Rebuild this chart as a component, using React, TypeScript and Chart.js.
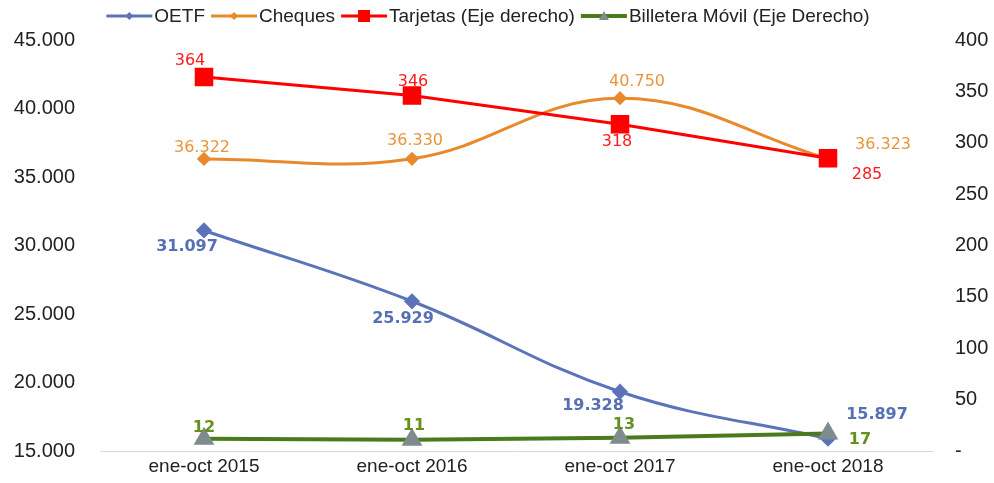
import React, { useEffect, useRef } from "react";
import { Chart, registerables } from "chart.js";

Chart.register(...registerables);

const categories = ["ene-oct 2015", "ene-oct 2016", "ene-oct 2017", "ene-oct 2018"];
const oetf = [31097, 25929, 19328, 15897];
const cheques = [36322, 36330, 40750, 36323];
const tarjetas = [364, 346, 318, 285];
const billetera = [12, 11, 13, 17];
const leftTicks = [15000, 20000, 25000, 30000, 35000, 40000, 45000];
const rightTicks = [0, 50, 100, 150, 200, 250, 300, 350, 400];

// label offsets (style, not data)
const labelOffsets: Record<string, [number, number][]> = {
  OETF: [[-17, 16], [-9, 18], [-27, 14], [49, -24]],
  Cheques: [[-2, -11], [3, -18], [17, -16], [55, -14]],
  "Tarjetas (Eje derecho)": [[-14, -16], [1, -14], [-3, 18], [39, 17]],
  "Billetera Móvil (Eje Derecho)": [[0, -11], [2, -14], [4, -13], [32, 6]],
};

const W = 994;
const H = 483;

const fmt = (v: number) => {
  const s = Math.round(v).toString();
  return s.replace(/\B(?=(\d{3})+(?!\d))/g, ".");
};

const labelPlugin = {
  id: "dataLabels",
  afterDatasetsDraw(chart: any) {
    const ctx = chart.ctx;
    chart.data.datasets.forEach((ds: any, i: number) => {
      const meta = chart.getDatasetMeta(i);
      const offs = labelOffsets[ds.label];
      ctx.save();
      ctx.font = `${ds._bold ? "bold " : ""}16px "DejaVu Sans", Verdana, sans-serif`;
      ctx.fillStyle = ds._labelColor;
      ctx.textAlign = "center";
      ctx.textBaseline = "middle";
      meta.data.forEach((pt: any, j: number) => {
        const [dx, dy] = offs[j];
        ctx.fillText(fmt(ds.data[j]), pt.x + dx, pt.y + dy);
      });
      ctx.restore();
    });
  },
};

const legendPlugin = {
  id: "customLegend",
  afterDraw(chart: any) {
    const ctx = chart.ctx;
    ctx.save();
    ctx.font = '19px "Liberation Sans", Arial, sans-serif';
    const lineW = 46;
    const gapText = 2;
    const gapItem = 6;
    const items = chart.data.datasets.map((ds: any) => ({
      ds,
      w: lineW + gapText + ctx.measureText(ds.label).width,
    }));
    const total = items.reduce((a: number, it: any) => a + it.w, 0) + gapItem * (items.length - 1);
    let x = 488 - total / 2;
    const y = 16;
    items.forEach((it: any) => {
      const ds = it.ds;
      ctx.strokeStyle = ds.borderColor;
      ctx.lineWidth = ds.borderWidth;
      ctx.beginPath();
      ctx.moveTo(x, y);
      ctx.lineTo(x + lineW, y);
      ctx.stroke();
      ctx.fillStyle = ds.pointBackgroundColor;
      const cx = x + lineW / 2;
      const r = ds._legendR;
      ctx.beginPath();
      if (ds.pointStyle === "rectRot") {
        ctx.moveTo(cx, y - r);
        ctx.lineTo(cx + r, y);
        ctx.lineTo(cx, y + r);
        ctx.lineTo(cx - r, y);
      } else if (ds.pointStyle === "rect") {
        ctx.rect(cx - r, y - r, 2 * r, 2 * r);
      } else {
        ctx.moveTo(cx, y - r);
        ctx.lineTo(cx + r, y + r * 0.8);
        ctx.lineTo(cx - r, y + r * 0.8);
      }
      ctx.closePath();
      ctx.fill();
      ctx.fillStyle = "#222";
      ctx.textAlign = "left";
      ctx.textBaseline = "middle";
      ctx.fillText(ds.label, x + lineW + gapText, y + 1);
      x += it.w + gapItem;
    });
    ctx.restore();
  },
};

export default function App() {
  const ref = useRef<HTMLCanvasElement>(null);
  useEffect(() => {
    document.body.style.margin = "0";
    const xFont = { family: '"Liberation Sans", Arial, sans-serif', size: 19 };
    const yFont = { family: '"Liberation Sans", Arial, sans-serif', size: 20, lineHeight: 0.7 };
    const chart = new Chart(ref.current!, {
      type: "line",
      data: {
        labels: categories,
        datasets: [
          {
            label: "OETF",
            data: oetf,
            yAxisID: "y",
            order: 3,
            borderColor: "#5B73B9",
            backgroundColor: "#5B73B9",
            pointBackgroundColor: "#5B73B9",
            pointBorderColor: "#5B73B9",
            pointStyle: "rectRot",
            pointRadius: 6,
            borderWidth: 3,
            tension: 0.4,
            _labelColor: "#5670B5",
            _bold: true,
            _legendR: 4,
          } as any,
          {
            label: "Cheques",
            data: cheques,
            yAxisID: "y",
            order: 2,
            borderColor: "#E8892C",
            backgroundColor: "#E8892C",
            pointBackgroundColor: "#E8892C",
            pointBorderColor: "#E8892C",
            pointStyle: "rectRot",
            pointRadius: 5,
            borderWidth: 3,
            tension: 0.4,
            _labelColor: "#E8953A",
            _bold: false,
            _legendR: 4,
          } as any,
          {
            label: "Tarjetas (Eje derecho)",
            data: tarjetas,
            yAxisID: "y1",
            order: 1,
            borderColor: "#FF0000",
            backgroundColor: "#FF0000",
            pointBackgroundColor: "#FF0000",
            pointBorderColor: "#FF0000",
            pointStyle: "rect",
            pointRadius: 11,
            borderWidth: 3,
            tension: 0,
            _labelColor: "#FF1A1A",
            _bold: false,
            _legendR: 6,
          } as any,
          {
            label: "Billetera Móvil (Eje Derecho)",
            data: billetera,
            yAxisID: "y1",
            order: 0,
            borderColor: "#4B7A1C",
            backgroundColor: "#7F8C8D",
            pointBackgroundColor: "#7F8C8D",
            pointBorderColor: "#7F8C8D",
            pointStyle: "triangle",
            pointRadius: 8,
            borderWidth: 4,
            tension: 0,
            _labelColor: "#66901F",
            _bold: true,
            _legendR: 5,
          } as any,
        ],
      },
      options: {
        animation: false,
        responsive: false,
        maintainAspectRatio: false,
        devicePixelRatio: 1,
        layout: { padding: { top: 40, left: 0, right: 0, bottom: 0 } },
        plugins: { legend: { display: false }, tooltip: { enabled: false } },
        scales: {
          x: {
            type: "category",
            offset: true,
            grid: { display: false, drawTicks: false, tickLength: 0 },
            border: { display: true, color: "#D9D9D9", width: 1 },
            ticks: { font: xFont, color: "#222", padding: 4, maxRotation: 0 },
            afterFit: (s: any) => { s.height = 32; },
          },
          y: {
            position: "left",
            min: 15000,
            max: 45000,
            afterBuildTicks: (s: any) => { s.ticks = leftTicks.map((v) => ({ value: v })); },
            grid: { display: false, drawTicks: false, tickLength: 0 },
            border: { display: false },
            ticks: { font: yFont, color: "#222", padding: 25, callback: (v: any) => fmt(Number(v)) },
            afterFit: (s: any) => { s.width = 100; },
          },
          y1: {
            position: "right",
            min: 0,
            max: 400,
            afterBuildTicks: (s: any) => { s.ticks = rightTicks.map((v) => ({ value: v })); },
            grid: { display: false, drawTicks: false, tickLength: 0 },
            border: { display: false },
            ticks: { font: yFont, color: "#222", padding: 23, callback: (v: any) => (Number(v) === 0 ? "-" : String(v)) },
            afterFit: (s: any) => { s.width = 62; },
          },
        },
      } as any,
      plugins: [labelPlugin, legendPlugin],
    });
    return () => chart.destroy();
  }, []);
  return (
    <div style={{ width: W, height: H }}>
      <canvas ref={ref} width={W} height={H} style={{ display: "block", width: W, height: H }} />
    </div>
  );
}
